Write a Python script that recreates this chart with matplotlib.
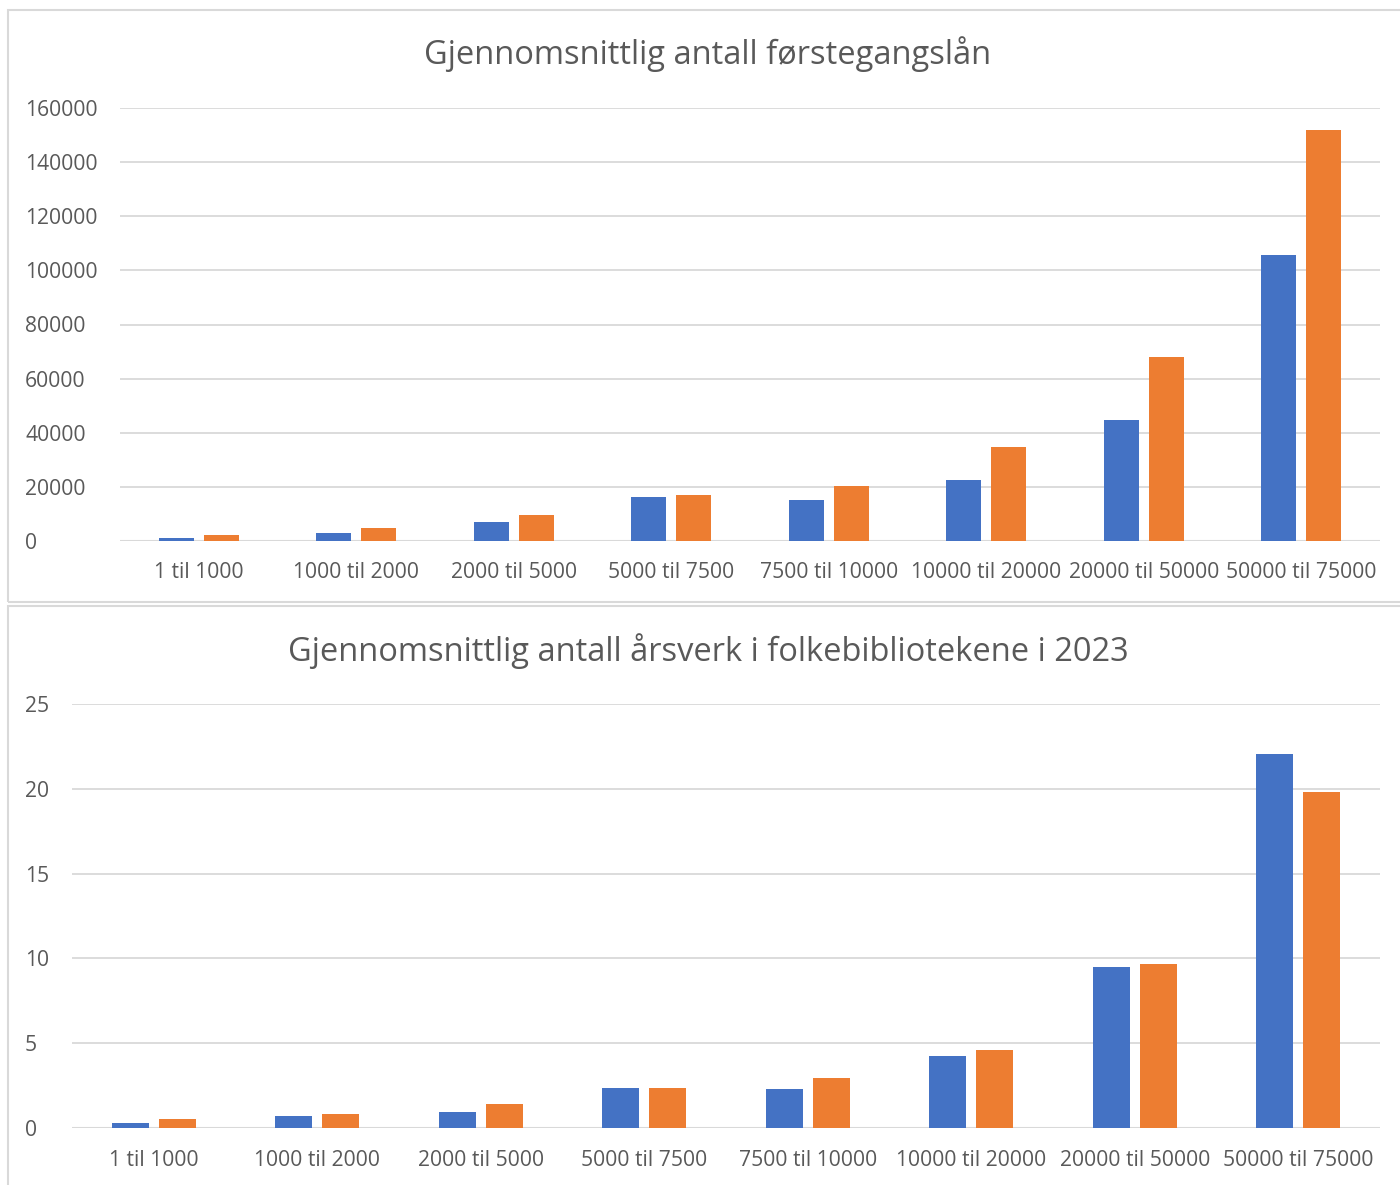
import numpy as np
import matplotlib.pyplot as plt
from matplotlib.patches import Rectangle

# data
kategorier = ['1 til 1000', '1000 til 2000', '2000 til 5000', '5000 til 7500',
              '7500 til 10000', '10000 til 20000', '20000 til 50000', '50000 til 75000']
lan_blaa = [1100, 3100, 7100, 16300, 15200, 22500, 44700, 105700]
lan_oransje = [2100, 4900, 9700, 17000, 20300, 34700, 68000, 151900]
aarsverk_blaa = [0.29, 0.71, 0.96, 2.36, 2.30, 4.25, 9.49, 22.05]
aarsverk_oransje = [0.53, 0.81, 1.42, 2.36, 2.95, 4.60, 9.67, 19.83]
titler = ['Gjennomsnittlig antall førstegangslån',
          'Gjennomsnittlig antall årsverk i folkebibliotekene i 2023']

BLAA = '#4472c4'
ORANSJE = '#ed7d31'
GRAA = '#595959'
GRID = '#d9d9d9'
W, H = 1400, 1185

plt.rcParams['font.family'] = ['Open Sans', 'DejaVu Sans']

fig = plt.figure(figsize=(W / 100, H / 100), dpi=100)


def px_axes(left, top, right, bottom):
    return fig.add_axes([left / W, 1 - bottom / H, (right - left) / W, (bottom - top) / H])


# panel borders
for (x0, y0, x1, y1) in [(8, 10, 1402, 602), (8, 606, 1402, 1190)]:
    fig.patches.append(Rectangle((x0 / W, 1 - y1 / H), (x1 - x0) / W, (y1 - y0) / H,
                                 transform=fig.transFigure, fill=False,
                                 edgecolor='#d9d9d9', linewidth=1.5))


def tegn(ax, blaa, oransje, ymax, steg, tittel, tittel_y, xpad):
    x = np.arange(len(kategorier))
    bw = 0.225
    ax.bar(x - 0.143, blaa, bw, color=BLAA, zorder=3)
    ax.bar(x + 0.143, oransje, bw, color=ORANSJE, zorder=3)
    ax.set_xlim(-0.5, len(kategorier) - 0.5)
    ax.set_ylim(0, ymax)
    ax.set_yticks(np.arange(0, ymax + 1, steg))
    ax.yaxis.grid(True, color=GRID, linewidth=1.3, zorder=0)
    for s in ax.spines.values():
        s.set_visible(False)
    ax.axhline(0, color=GRID, linewidth=1.5, zorder=2)
    ax.set_xticks(x)
    ax.set_xticklabels(kategorier)
    ax.tick_params(axis='both', length=0, colors=GRAA, labelsize=15.2)
    ax.tick_params(axis='x', pad=xpad)
    ax.tick_params(axis='y', pad=0)
    for lab in ax.get_yticklabels():
        lab.set_horizontalalignment('left')
    fig.text(708 / W, 1 - tittel_y / H, tittel, ha='center', va='center',
             color=GRAA, fontsize=23.5)


ax1 = px_axes(120, 108, 1380, 541)
tegn(ax1, lan_blaa, lan_oransje, 160000, 20000, titler[0], 54, 15)
# left-align y labels at x=25
for lab in ax1.get_yticklabels():
    lab.set_x(-(120 - 25) / 1260)

ax2 = px_axes(72, 704, 1380, 1128)
tegn(ax2, aarsverk_blaa, aarsverk_oransje, 25, 5, titler[1], 651, 16)
for lab in ax2.get_yticklabels():
    lab.set_x(-(72 - 25) / 1308)

fig.savefig('out.png', dpi=100)
